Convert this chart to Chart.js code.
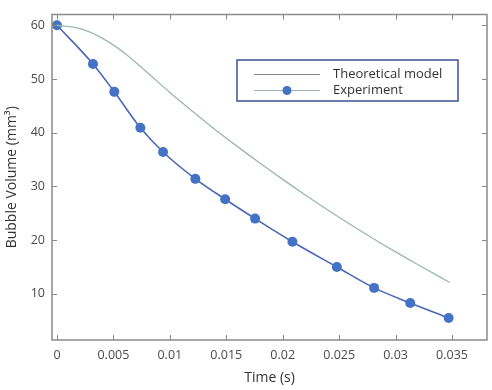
<!DOCTYPE html>
<html>
<head>
<meta charset="utf-8">
<script src="https://cdn.jsdelivr.net/npm/chart.js@4.4.0/dist/chart.umd.min.js"></script>
<style>
  html, body { margin: 0; padding: 0; background: #fff; }
  #wrap { width: 492px; height: 390px; position: relative; }
</style>
</head>
<body>
<div id="wrap"><canvas id="chart"></canvas></div>
<script>
// Experiment (measured points)
const expTime = [0, 0.00319, 0.00508, 0.00739, 0.0094, 0.01226, 0.0149, 0.01755, 0.02086, 0.0248, 0.0281, 0.0313, 0.0347];
const expVolume = [60, 52.8, 47.6, 40.9, 36.4, 31.4, 27.6, 24.0, 19.7, 15.0, 11.1, 8.3, 5.5];

// Theoretical model curve
const theoTime = [0, 0.002, 0.004, 0.006, 0.008, 0.010, 0.012, 0.014, 0.016, 0.018, 0.020, 0.022, 0.024, 0.026, 0.028, 0.030, 0.032, 0.0348];
const theoVolume = [60, 59.4, 57.6, 54.8, 51.2, 47.5, 44.0, 40.6, 37.4, 34.3, 31.3, 28.4, 25.6, 22.9, 20.3, 17.8, 15.4, 12.1];

const xTicks = [0, 0.005, 0.01, 0.015, 0.02, 0.025, 0.03, 0.035];
const yTicks = [10, 20, 30, 40, 50, 60];

const legendLabels = ["Theoretical model", "Experiment"];

const blue = "#4472c4";
const blueLine = "#4a68b8";
const green = "#9ab8ad";
const axisColor = "#8a8a8a";
const textColor = "#4a4a4a";

// box, inner ticks on all four sides, and the legend
const frame = {
  id: "frame",
  afterDraw(chart) {
    const { ctx, chartArea: a, scales } = chart;
    ctx.save();
    ctx.strokeStyle = axisColor;
    ctx.lineWidth = 1.5;
    ctx.strokeRect(a.left, a.top, a.right - a.left, a.bottom - a.top);
    ctx.lineWidth = 1;
    ctx.beginPath();
    scales.x.ticks.forEach((t) => {
      const px = Math.round(scales.x.getPixelForValue(t.value)) + 0.5;
      ctx.moveTo(px, a.bottom); ctx.lineTo(px, a.bottom - 5);
      ctx.moveTo(px, a.top); ctx.lineTo(px, a.top + 5);
    });
    scales.y.ticks.forEach((t) => {
      const py = Math.round(scales.y.getPixelForValue(t.value)) + 0.5;
      ctx.moveTo(a.left, py); ctx.lineTo(a.left + 5, py);
      ctx.moveTo(a.right, py); ctx.lineTo(a.right - 5, py);
    });
    ctx.stroke();

    // legend
    const lx = 237, ly = 60, lw = 221, lh = 41;
    ctx.fillStyle = "#fff";
    ctx.fillRect(lx, ly, lw, lh);
    ctx.strokeStyle = "#3a5296";
    ctx.lineWidth = 1.5;
    ctx.strokeRect(lx, ly, lw, lh);

    ctx.lineWidth = 1.2;
    ctx.strokeStyle = "#7f8794";
    ctx.beginPath();
    ctx.moveTo(254, 74.5); ctx.lineTo(320, 74.5);
    ctx.stroke();
    ctx.strokeStyle = green;
    ctx.beginPath();
    ctx.moveTo(254, 90.5); ctx.lineTo(320, 90.5);
    ctx.stroke();
    ctx.fillStyle = blue;
    ctx.beginPath();
    ctx.arc(287, 90.5, 4.5, 0, Math.PI * 2);
    ctx.fill();

    ctx.fillStyle = "#333";
    ctx.font = "13px 'Open Sans', sans-serif";
    ctx.textBaseline = "middle";
    ctx.fillText(legendLabels[0], 333, 74);
    ctx.fillText(legendLabels[1], 333, 90);
    ctx.restore();
  },
};

new Chart(document.getElementById("chart"), {
  type: "line",
  data: {
    datasets: [
      {
        label: legendLabels[0],
        data: theoTime.map((t, i) => ({ x: t, y: theoVolume[i] })),
        borderColor: green,
        borderWidth: 1.3,
        pointRadius: 0,
        cubicInterpolationMode: "monotone",
        fill: false,
      },
      {
        label: legendLabels[1],
        data: expTime.map((t, i) => ({ x: t, y: expVolume[i] })),
        borderColor: blueLine,
        backgroundColor: blue,
        borderWidth: 1.6,
        pointRadius: 5,
        pointBackgroundColor: blue,
        pointBorderWidth: 0,
        cubicInterpolationMode: "monotone",
        fill: false,
      },
    ],
  },
  options: {
    responsive: true,
    maintainAspectRatio: false,
    animation: false,
    layout: { padding: { top: 9, right: 5, left: 0, bottom: 0 } },
    plugins: { legend: { display: false }, tooltip: { enabled: false } },
    scales: {
      x: {
        type: "linear",
        min: -0.00044,
        max: 0.0381,
        afterBuildTicks: (s) => { s.ticks = xTicks.map((v) => ({ value: v })); },
        afterFit: (s) => { s.height = 50; },
        grid: { display: false, drawTicks: false },
        border: { display: false },
        ticks: {
          color: textColor,
          padding: 8,
          maxRotation: 0,
          font: { family: "'Open Sans', sans-serif", size: 12.5 },
          callback: (v) => String(+v.toFixed(3)),
        },
        title: {
          display: true,
          text: "Time (s)",
          color: "#333",
          padding: { top: 2, bottom: 4 },
          font: { family: "'Open Sans', sans-serif", size: 14 },
        },
      },
      y: {
        min: 1.4,
        max: 62,
        afterBuildTicks: (s) => { s.ticks = yTicks.map((v) => ({ value: v })); },
        afterFit: (s) => { s.width = 52; },
        grid: { display: false, drawTicks: false },
        border: { display: false },
        ticks: {
          color: textColor,
          padding: 7,
          font: { family: "'Open Sans', sans-serif", size: 12.5 },
        },
        title: {
          display: true,
          text: "Bubble Volume (mm³)",
          color: "#333",
          padding: { top: 4, bottom: 2 },
          font: { family: "'Open Sans', sans-serif", size: 14 },
        },
      },
    },
  },
  plugins: [frame],
});
</script>
</body>
</html>
